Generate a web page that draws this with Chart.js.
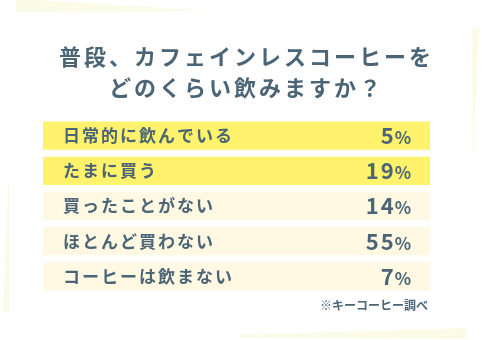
<!DOCTYPE html>
<html>
<head>
<meta charset="UTF-8">
<title>カフェインレスコーヒー</title>
<style>
  body { margin: 0; background: #fff; }
  canvas { display: block; }
</style>
</head>
<body>
<canvas id="myChart" width="482" height="340"></canvas>
<script src="https://cdn.jsdelivr.net/npm/chart.js@4.4.1/dist/chart.umd.min.js"></script>
<script>
// data
var title = ['普段、カフェインレスコーヒーを', 'どのくらい飲みますか？']
var categories = ['日常的に飲んでいる', 'たまに買う', '買ったことがない', 'ほとんど買わない', 'コーヒーは飲まない']
var percents = [5, 19, 14, 55, 7]
var highlighted = [true, true, false, false, false]
var rowFill = [100, 100, 100, 100, 100]
var source = '※キーコーヒー調べ'

var textColor = '#4b6576'
var fontFamily = '"Noto Sans CJK JP", "Noto Sans", sans-serif'

// pale background shapes + title / labels
var decor = {
    id: 'decor',
    beforeDraw: function(chart) {
        var ctx = chart.ctx
        ctx.save()
        ctx.fillStyle = '#fff'
        ctx.fillRect(0, 0, chart.width, chart.height)
        ctx.fillStyle = '#fbfbe7'
        var shapes = [
            [[16, 0], [40, 0], [208, 11], [16, 12]],
            [[472, 28], [479, 28], [473, 170]],
            [[9, 167], [9, 312], [3, 312]],
            [[240, 335], [466, 328], [466, 339], [240, 337]]
        ]
        shapes.forEach(function(s) {
            ctx.beginPath()
            ctx.moveTo(s[0][0], s[0][1])
            for (var i = 1; i < s.length; i++) ctx.lineTo(s[i][0], s[i][1])
            ctx.closePath()
            ctx.fill()
        })
        ctx.restore()
    },
    afterDatasetsDraw: function(chart) {
        var ctx = chart.ctx
        var area = chart.chartArea
        var yScale = chart.scales.y
        ctx.save()
        ctx.fillStyle = textColor
        ctx.textBaseline = 'middle'

        // title
        ctx.font = 'bold 22px ' + fontFamily
        ctx.letterSpacing = '3px'
        ctx.textAlign = 'left'
        var ty = [57, 88]
        title.forEach(function(line, i) {
            var w = ctx.measureText(line).width - 3
            ctx.fillText(line, 245 - w / 2, ty[i])
        })

        // row labels and values
        categories.forEach(function(c, i) {
            var y = yScale.getPixelForValue(i)
            ctx.font = 'bold 17px ' + fontFamily
            ctx.letterSpacing = '2px'
            ctx.textAlign = 'left'
            ctx.fillText(c, area.left + 20, y)

            ctx.letterSpacing = '0px'
            ctx.textAlign = 'right'
            ctx.font = 'bold 17px ' + fontFamily
            var pw = ctx.measureText('%').width
            ctx.fillText('%', area.right - 19, y + 2)
            ctx.font = 'bold 22px ' + fontFamily
            ctx.letterSpacing = '2px'
            ctx.fillText(String(percents[i]), area.right - 19 - pw + 1, y)
        })

        // source
        ctx.font = 'bold 12px ' + fontFamily
        ctx.letterSpacing = '0px'
        ctx.textAlign = 'right'
        ctx.fillText(source, area.right - 2, 305)
        ctx.restore()
    }
}

var chart = new Chart(document.getElementById('myChart').getContext('2d'), {
    type: 'bar',
    data: {
        labels: categories,
        datasets: [{
            data: rowFill,
            backgroundColor: highlighted.map(function(h) { return h ? '#fff26c' : '#fff9e4' }),
            borderWidth: 0,
            categoryPercentage: 1,
            barPercentage: 0.8
        }]
    },
    options: {
        indexAxis: 'y',
        responsive: false,
        animation: false,
        layout: { padding: { left: 43, right: 52, top: 118, bottom: 46 } },
        scales: {
            x: { display: false, min: 0, max: 100 },
            y: { display: false }
        },
        plugins: {
            legend: { display: false },
            tooltip: { enabled: false }
        }
    },
    plugins: [decor]
})
</script>
</body>
</html>
